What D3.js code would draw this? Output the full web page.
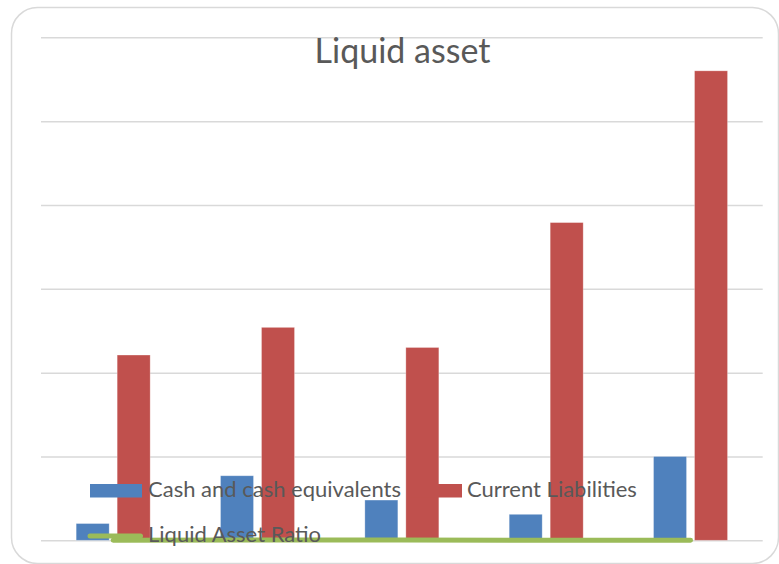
<!DOCTYPE html>
<html>
<head>
<meta charset="utf-8">
<script src="https://cdn.jsdelivr.net/npm/d3@7/dist/d3.min.js"></script>
<style>
  html, body { margin: 0; padding: 0; background: #fff; }
  svg { display: block; }
  text { font-family: Lato, "Open Sans", sans-serif; fill: #595959; }
</style>
</head>
<body>
<svg id="chart" width="779" height="564"></svg>
<script>
// chart values (no axis labels shown)
var categories = ["1", "2", "3", "4", "5"];
var cashValues = [20, 77, 48, 31, 100];
var liabilityValues = [221, 254, 230, 379, 560];
var ratioValues = [0.09, 0.30, 0.21, 0.08, 0.18];
var yTicks = [0, 100, 200, 300, 400, 500, 600];
var seriesNames = ["Cash and cash equivalents", "Current Liabilities", "Liquid Asset Ratio"];

var blue = "#4f81bd", red = "#c0504d", green = "#9bbb59";

var svg = d3.select("#chart");

// outer frame
svg.append("rect")
  .attr("x", 11.5).attr("y", 7.5)
  .attr("width", 767).attr("height", 556)
  .attr("rx", 26).attr("ry", 26)
  .attr("fill", "#fff")
  .attr("stroke", "#d9d9d9")
  .attr("stroke-width", 1.5);

// plot area (don't call it "top", window.top is taken)
var plotLeft = 41, plotRight = 762.7, plotTop = 37.3, plotBottom = 540.3;

var x = d3.scaleBand().domain(categories).range([plotLeft, plotRight]);
var y = d3.scaleLinear().domain([0, 600]).range([plotBottom, plotTop]);
var keys = ["cash", "liab"];
var xSub = d3.scaleBand().domain(keys).range([-37, 37]).paddingInner(0.195);

// gridlines
var grid = svg.append("g")
  .attr("transform", "translate(" + plotLeft + ",0)")
  .call(d3.axisLeft(y).tickValues(yTicks).tickSize(-(plotRight - plotLeft)).tickFormat(""));
grid.select(".domain").remove();
grid.selectAll(".tick line").attr("stroke", "#d9d9d9").attr("stroke-width", 1.5);

// bars
var rows = categories.map(function (c, i) {
  return { cat: c, cash: cashValues[i], liab: liabilityValues[i], ratio: ratioValues[i] };
});
var colors = { cash: blue, liab: red };

var groups = svg.append("g").selectAll("g")
  .data(rows).enter().append("g")
  .attr("transform", function (d) { return "translate(" + (x(d.cat) + x.bandwidth() / 2) + ",0)"; });

groups.selectAll("rect")
  .data(function (d) { return keys.map(function (k) { return { key: k, value: d[k] }; }); })
  .enter().append("rect")
  .attr("x", function (d) { return xSub(d.key); })
  .attr("width", xSub.bandwidth())
  .attr("y", function (d) { return y(d.value); })
  .attr("height", function (d) { return plotBottom - y(d.value); })
  .attr("fill", function (d) { return colors[d.key]; })
  .attr("stroke", "rgba(255,255,255,0.35)")
  .attr("stroke-width", 0.8);

// ratio line
var line = d3.line()
  .x(function (d) { return x(d.cat) + x.bandwidth() / 2; })
  .y(function (d) { return y(d.ratio); });

svg.append("path")
  .datum(rows)
  .attr("d", line)
  .attr("fill", "none")
  .attr("stroke", green)
  .attr("stroke-width", 5)
  .attr("stroke-linecap", "round")
  .attr("stroke-linejoin", "round");

// title
svg.append("text")
  .attr("x", 402.5).attr("y", 63)
  .attr("text-anchor", "middle")
  .style("font-size", "34px")
  .text("Liquid asset");

// legend
var legend = svg.append("g");
legend.append("rect").attr("x", 90).attr("y", 484).attr("width", 52).attr("height", 13.5).attr("fill", blue);
legend.append("text").attr("x", 148).attr("y", 497).style("font-size", "22px").text(seriesNames[0]);
legend.append("rect").attr("x", 410).attr("y", 484).attr("width", 52).attr("height", 13.5).attr("fill", red);
legend.append("text").attr("x", 467).attr("y", 497).style("font-size", "22px").text(seriesNames[1]);
legend.append("line").attr("x1", 90).attr("x2", 140.5).attr("y1", 536).attr("y2", 536)
  .attr("stroke", green).attr("stroke-width", 5).attr("stroke-linecap", "round");
legend.append("text").attr("x", 148).attr("y", 541.5).style("font-size", "22px").text(seriesNames[2]);
</script>
</body>
</html>
